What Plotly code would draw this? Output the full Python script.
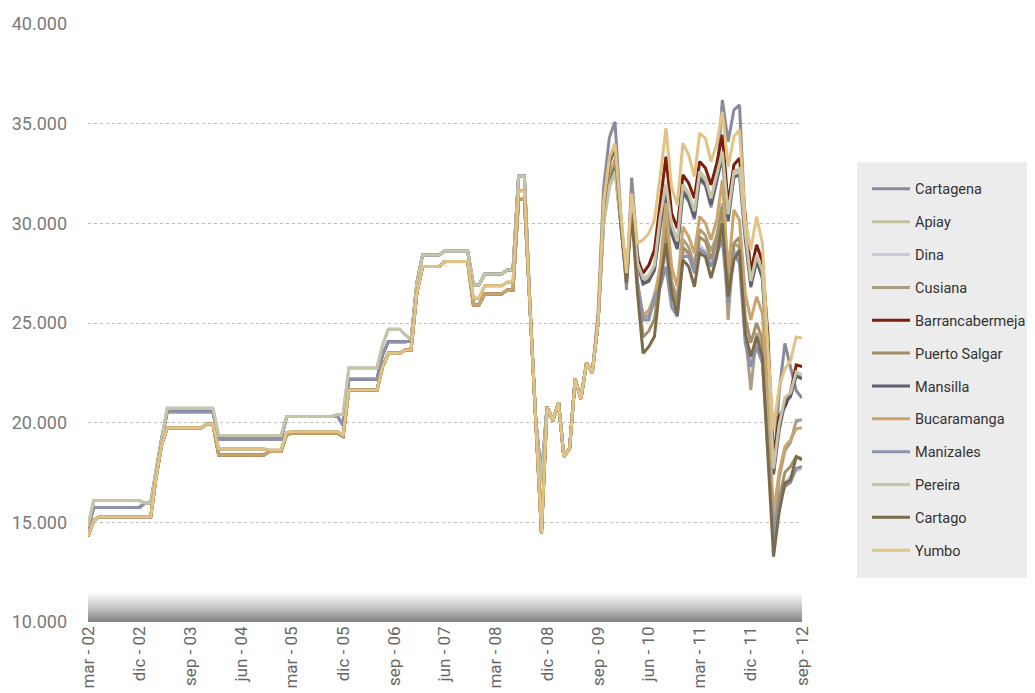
import pandas as pd
import plotly.graph_objects as go

# Meses (mar-02 a sep-12, mensual)
fechas = pd.date_range("2002-03-01", periods=127, freq="MS")
meses = ["ene", "feb", "mar", "abr", "may", "jun", "jul", "ago", "sep", "oct", "nov", "dic"]

# Tramo regulado (mar-02 a nov-08): las series van en cuatro grupos
grupo_a = [14800, 16090, 16090, 16090, 16090, 16090, 16090, 16090, 16090, 16090,
           15960, 15960, 17600, 19300, 20720, 20720, 20720, 20720, 20720, 20720,
           20720, 20720, 20720, 19350, 19350, 19350, 19350, 19350, 19350, 19350,
           19350, 19350, 19350, 19350, 19350, 20310, 20310, 20310, 20310, 20310,
           20310, 20310, 20310, 20310, 20410, 20410, 22740, 22740, 22740, 22740,
           22740, 22740, 23900, 24690, 24690, 24690, 24400, 24150, 27000, 28410,
           28410, 28410, 28410, 28620, 28620, 28620, 28620, 28620, 26910, 26910,
           27460, 27460, 27460, 27460, 27660, 27660, 32380, 32380, 25650, 20140,
           17000]
grupo_b = [14700, 15750, 15750, 15750, 15750, 15750, 15750, 15750, 15750, 15750,
           15960, 15960, 17500, 19200, 20550, 20550, 20550, 20550, 20550, 20550,
           20550, 20550, 20550, 19180, 19180, 19180, 19180, 19180, 19180, 19180,
           19180, 19180, 19180, 19180, 19180, 20310, 20310, 20310, 20310, 20310,
           20310, 20310, 20310, 20310, 20310, 19880, 22180, 22180, 22180, 22180,
           22180, 22180, 23400, 24060, 24060, 24060, 24060, 24100, 27000, 28410,
           28410, 28410, 28410, 28620, 28620, 28620, 28620, 28620, 26910, 26910,
           27460, 27460, 27460, 27460, 27660, 27660, 32380, 32380, 25650, 20140,
           17300]
grupo_c1 = [14300, 15100, 15280, 15280, 15280, 15280, 15280, 15280, 15280, 15280,
            15280, 15280, 17200, 18900, 19750, 19750, 19750, 19750, 19750, 19750,
            19750, 19930, 19930, 18680, 18680, 18680, 18680, 18680, 18680, 18680,
            18680, 18680, 18620, 18620, 18620, 19500, 19550, 19550, 19550, 19550,
            19550, 19550, 19550, 19550, 19550, 19380, 21640, 21640, 21640, 21640,
            21640, 21640, 22800, 23480, 23480, 23480, 23650, 23650, 26500, 27830,
            27830, 27830, 27830, 28080, 28080, 28080, 28080, 28080, 26240, 26240,
            26870, 26870, 26870, 26870, 27050, 27050, 31630, 31630, 25650, 20140,
            14450]
grupo_c2 = [14300, 15100, 15280, 15280, 15280, 15280, 15280, 15280, 15280, 15280,
            15280, 15280, 17200, 18900, 19750, 19750, 19750, 19750, 19750, 19750,
            19750, 19930, 19930, 18380, 18380, 18380, 18380, 18380, 18380, 18380,
            18380, 18380, 18550, 18550, 18550, 19400, 19470, 19470, 19470, 19470,
            19470, 19470, 19470, 19470, 19470, 19300, 21640, 21640, 21640, 21640,
            21640, 21640, 22800, 23480, 23480, 23480, 23650, 23650, 26500, 27830,
            27830, 27830, 27830, 28080, 28080, 28080, 28080, 28080, 25900, 25900,
            26460, 26460, 26460, 26460, 26660, 26660, 31210, 31210, 25650, 20140,
            14450]
# dic-08 a ago-09, comun a todas
tramo_comun = [20800, 20100, 21000, 18300, 18700, 22200, 21200, 23000, 22500]

# sep-09 a sep-12, por ciudad
cartagena_fin = [25500, 31800, 34300, 35100, 30500, 26660, 32300, 28500,
                 27000, 27200, 27700, 29800, 31500, 29500, 28700, 31500, 31100, 30200,
                 32200, 31900, 30800, 32100, 36190, 34100, 35690, 35940, 30000, 27000,
                 28300, 27200, 23000, 17500, 21500, 23980, 22800, 21600, 21240]
apiay_fin = [25000, 30000, 31800, 32600, 30000, 27300, 30900, 28000,
             27160, 27330, 27830, 30170, 31850, 29830, 29000, 31850, 31430, 30510,
             32510, 32180, 31170, 32350, 33520, 30340, 32510, 32680, 29500, 27000,
             28330, 27500, 23500, 17630, 19800, 21140, 21390, 22480, 22310]
dina_fin = [25000, 30500, 32000, 33000, 30000, 27000, 31000, 27000,
            25300, 25400, 26500, 27200, 28500, 26300, 25800, 28600, 28400, 27700,
            28900, 28600, 27900, 28700, 29500, 26500, 28700, 28300, 24300, 23000,
            24000, 23200, 19200, 14500, 16300, 17000, 17300, 17600, 17700]
cusiana_fin = [25000, 30500, 32300, 33000, 30000, 27300, 30900, 27000,
               25200, 25400, 26000, 27300, 30200, 27100, 26200, 29200, 28800, 27900,
               29700, 29400, 28600, 29400, 31000, 25150, 29000, 28800, 24500, 21640,
               24500, 23800, 20000, 14800, 17200, 18600, 19000, 20100, 20150]
barranca_fin = [25000, 30500, 32300, 33000, 30000, 27300, 30900, 28200,
                27500, 27910, 28670, 31010, 33350, 30510, 29750, 32430, 32010, 31260,
                33100, 32770, 31930, 33010, 34440, 30920, 32930, 33270, 30340, 27580,
                28920, 28080, 24500, 18130, 20300, 20800, 21500, 22900, 22810]
salgar_fin = [25000, 30500, 32300, 33000, 30000, 27300, 30900, 27000,
              24300, 24600, 25200, 27300, 29800, 26900, 25900, 28800, 28500, 27500,
              29300, 29100, 28200, 29100, 30800, 26900, 29000, 29300, 25300, 24000,
              25000, 24200, 19500, 14000, 16200, 17500, 17800, 18300, 18200]
mansilla_fin = [25000, 30200, 32000, 32800, 30000, 27200, 31000, 28000,
                26950, 27100, 27650, 29900, 31600, 29500, 28750, 31600, 31200, 30300,
                32300, 31950, 30950, 32100, 33300, 30100, 32300, 32450, 29200, 26800,
                28100, 27300, 23200, 17400, 19600, 21000, 21300, 22350, 22200]
bucaramanga_fin = [25000, 30500, 32500, 33200, 30000, 27500, 30900, 27000,
                   25400, 25650, 26320, 27830, 31010, 27830, 26820, 29830, 29330, 28500,
                   30340, 30000, 29170, 30170, 32180, 27500, 30670, 30170, 26490, 25150,
                   26320, 25490, 21000, 15450, 17500, 18800, 19130, 19700, 19750]
manizales_fin = [25000, 31000, 33000, 34000, 30000, 27000, 31500, 27000,
                 25150, 25150, 26320, 26800, 27830, 25820, 25320, 28330, 28330, 27600,
                 28700, 28500, 27830, 28500, 29170, 26000, 28500, 28000, 24000, 22800,
                 23800, 23000, 19000, 14200, 16000, 16800, 17000, 17700, 17800]
pereira_fin = [25000, 30000, 31800, 32600, 30000, 27300, 30900, 28000,
               27250, 27400, 27900, 30300, 32000, 29950, 29100, 31950, 31500, 30600,
               32600, 32250, 31250, 32450, 33600, 30450, 32600, 32750, 29600, 27100,
               28400, 27600, 23600, 17700, 19900, 21250, 21500, 22550, 22400]
cartago_fin = [25000, 30800, 33000, 33800, 30000, 27000, 30500, 26500,
               23480, 23810, 24320, 27000, 29000, 26490, 25400, 28160, 27830, 26820,
               28500, 28330, 27250, 28330, 30000, 26320, 28160, 28670, 24490, 23310,
               24320, 23310, 18500, 13280, 15500, 16960, 17120, 18290, 18130]
yumbo_fin = [25000, 31000, 33300, 34000, 30500, 27500, 31500, 29000,
             29170, 29500, 30170, 32350, 34770, 31840, 30920, 34020, 33430, 32350,
             34520, 34270, 33100, 34000, 35600, 32850, 34350, 34690, 30170, 28670,
             30340, 29000, 23800, 19630, 21800, 22700, 23100, 24300, 24250]

ciudades = ["Cartagena", "Apiay", "Dina", "Cusiana", "Barrancabermeja", "Puerto Salgar",
            "Mansilla", "Bucaramanga", "Manizales", "Pereira", "Cartago", "Yumbo"]
colores = ["#8a8a9a", "#c2c1a0", "#cbc9d9", "#ab9e86", "#7b1e0c", "#a38f68",
           "#5f5f6f", "#c9a46b", "#8b93ac", "#c6c5a8", "#7b6b4a", "#e0c385"]
series = [
    grupo_b + tramo_comun + cartagena_fin,
    grupo_a + tramo_comun + apiay_fin,
    grupo_a + tramo_comun + dina_fin,
    grupo_c2 + tramo_comun + cusiana_fin,
    grupo_c2 + tramo_comun + barranca_fin,
    grupo_c2 + tramo_comun + salgar_fin,
    grupo_b + tramo_comun + mansilla_fin,
    grupo_c2 + tramo_comun + bucaramanga_fin,
    grupo_b + tramo_comun + manizales_fin,
    grupo_a + tramo_comun + pereira_fin,
    grupo_c1 + tramo_comun + cartago_fin,
    grupo_c1 + tramo_comun + yumbo_fin,
]

fuente = "Roboto, Liberation Sans, sans-serif"

fig = go.Figure()

# banda degradada al pie del grafico
fig.add_trace(go.Scatter(
    x=[fechas[0], fechas[-1], fechas[-1], fechas[0], fechas[0]],
    y=[10000, 10000, 11500, 11500, 10000],
    mode="lines", line=dict(width=0), fill="toself",
    fillgradient=dict(type="vertical",
                      colorscale=[[0, "#808080"], [0.45, "#c2c2c2"], [1, "#ffffff"]]),
    showlegend=False, hoverinfo="skip"))

for nombre, color, valores in zip(ciudades, colores, series):
    fig.add_trace(go.Scatter(x=fechas, y=valores, name=nombre, mode="lines",
                             legendgroup=nombre,
                             line=dict(color=color, width=3)))

tick_fechas = fechas[::9]
tick_textos = [f"{meses[d.month - 1]} - {d:%y}" for d in tick_fechas]

# fondo gris de la leyenda
fig.add_shape(type="rect", xref="paper", yref="paper",
              x0=1.077, x1=1.33, y0=0.0736, y1=0.769,
              fillcolor="#ececec", line=dict(width=0), layer="below")

fig.update_layout(
    width=1027, height=685,
    margin=dict(l=80, r=233, t=16, b=71),
    paper_bgcolor="white", plot_bgcolor="white",
    separators=",.",
    font=dict(family=fuente, color="#555555"),
    legend=dict(xref="container", yref="paper", x=0.8364, y=0.751,
                xanchor="left", yanchor="top",
                bgcolor="rgba(0,0,0,0)", font=dict(size=14.5, color="#333333"),
                tracegroupgap=11, itemwidth=38),
    xaxis=dict(range=[fechas[0], fechas[-1]], tickvals=tick_fechas, ticktext=tick_textos,
               tickangle=-90, showgrid=False, zeroline=False, showline=False,
               tickfont=dict(size=17, color="#666666"), automargin=False),
    yaxis=dict(range=[10000, 40000], dtick=5000, tickformat=",.0f",
               showgrid=True, gridcolor="#bdbdbd", griddash="3px,3px", gridwidth=1,
               zeroline=False, showline=False, ticklabelstandoff=20,
               tickfont=dict(size=18, color="#7a7a7a"), automargin=False),
)

fig.write_html("out.html")
